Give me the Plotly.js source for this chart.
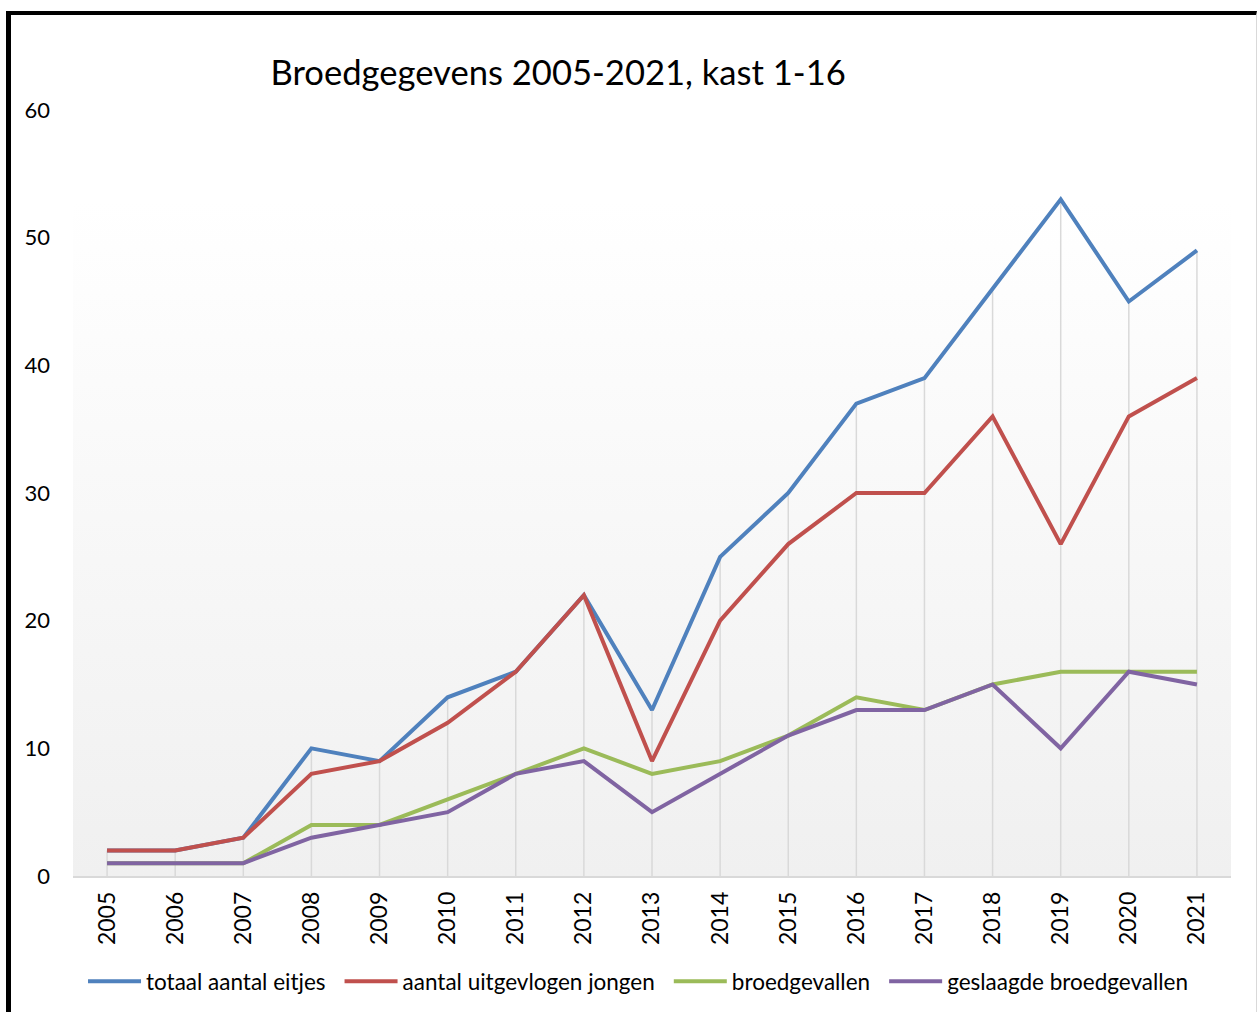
<!DOCTYPE html>
<html>
<head>
<meta charset="utf-8">
<script src="https://cdn.plot.ly/plotly-3.0.1.min.js"></script>
<style>
  html, body { margin: 0; padding: 0; background: #ffffff; }
  #wrap { position: relative; width: 1257px; height: 1012px; overflow: hidden; }
  #chart { position: absolute; left: 0; top: 0; width: 1257px; height: 1012px; }
  #frame { position: absolute; left: 6px; top: 11px; width: 1245px; height: 1010px;
           border-left: 5px solid #000; border-top: 4px solid #000; border-right: 1px solid #d9d9d9;
           pointer-events: none; }
</style>
</head>
<body>
<div id="wrap">
  <div id="chart"></div>
  <div id="frame"></div>
</div>
<script>
const years = ['2005','2006','2007','2008','2009','2010','2011','2012','2013','2014','2015','2016','2017','2018','2019','2020','2021'];
const totaalAantalEitjes      = [2, 2, 3, 10, 9, 14, 16, 22, 13, 25, 30, 37, 39, 46, 53, 45, 49];
const aantalUitgevlogenJongen = [2, 2, 3, 8, 9, 12, 16, 22, 9, 20, 26, 30, 30, 36, 26, 36, 39];
const broedgevallen           = [1, 1, 1, 4, 4, 6, 8, 10, 8, 9, 11, 14, 13, 15, 16, 16, 16];
const geslaagdeBroedgevallen  = [1, 1, 1, 3, 4, 5, 8, 9, 5, 8, 11, 13, 13, 15, 10, 16, 15];
const seriesNames = ['totaal aantal eitjes', 'aantal uitgevlogen jongen', 'broedgevallen', 'geslaagde broedgevallen'];
const yTicks = [0, 10, 20, 30, 40, 50, 60];

const FONT = 'Lato, "Open Sans", sans-serif';
const colors = ['#4F81BD', '#C0504D', '#9BBB59', '#8064A2'];
const allSeries = [totaalAantalEitjes, aantalUitgevlogenJongen, broedgevallen, geslaagdeBroedgevallen];

// drop lines: from the highest series value down to the axis at each year
const dropX = [], dropY = [];
years.forEach((yr, i) => {
  const top = Math.max(...allSeries.map(s => s[i]));
  dropX.push(yr, yr, null);
  dropY.push(0, top, null);
});

const traces = [{
  x: dropX, y: dropY, type: 'scatter', mode: 'lines',
  line: { color: '#d9d9d9', width: 1.5 }, showlegend: false, hoverinfo: 'skip'
}];
allSeries.forEach((s, k) => {
  traces.push({
    x: years, y: s, name: seriesNames[k], type: 'scatter', mode: 'lines',
    line: { color: colors[k], width: 4 }
  });
});

const gradSvg = "<svg xmlns='http://www.w3.org/2000/svg' width='100' height='100' preserveAspectRatio='none'>" +
  "<defs><linearGradient id='g' x1='0' y1='0' x2='0' y2='1'>" +
  "<stop offset='0' stop-color='#ffffff'/><stop offset='0.12' stop-color='#ffffff'/><stop offset='1' stop-color='#f0f0f0'/>" +
  "</linearGradient></defs><rect width='100' height='100' fill='url(#g)'/></svg>";

const layout = {
  width: 1257, height: 1012,
  paper_bgcolor: '#ffffff', plot_bgcolor: 'rgba(0,0,0,0)',
  margin: { l: 73, r: 26, t: 110, b: 136, autoexpand: false },
  font: { family: FONT, color: '#000000', size: 22 },
  title: { text: 'Broedgegevens 2005-2021, kast 1-16', font: { family: FONT, size: 34.6, color: '#000' },
           x: 0.444, xanchor: 'center', y: 0.928, yanchor: 'middle' },
  xaxis: {
    type: 'category', categoryorder: 'array', categoryarray: years,
    range: [-0.5, 16.5], showgrid: false, zeroline: false,
    showline: true, linecolor: '#d9d9d9', linewidth: 1.5,
    tickangle: -90, ticks: '', tickfont: { family: FONT, size: 23, color: '#000' },
    ticklabelstandoff: 5, automargin: false
  },
  yaxis: {
    range: [0, 60], tickvals: yTicks, showgrid: false, zeroline: false, showline: false,
    ticks: '', tickfont: { family: FONT, size: 22, color: '#000' }, ticklabelstandoff: 22, automargin: false
  },
  legend: {
    orientation: 'h', x: 0.4767, xanchor: 'center', y: -0.138, yanchor: 'middle',
    font: { family: FONT, size: 22.5, color: '#000' }, itemwidth: 53, traceorder: 'normal'
  },
  images: [{
    source: 'data:image/svg+xml;charset=utf-8,' + encodeURIComponent(gradSvg),
    xref: 'paper', yref: 'paper', x: 0, y: 1, sizex: 1, sizey: 1,
    sizing: 'stretch', layer: 'below', xanchor: 'left', yanchor: 'top'
  }],
  showlegend: true
};

Plotly.newPlot('chart', traces, layout, { displayModeBar: false, staticPlot: true }).then(() => {
  const EXTRA = 9;
  // lengthen legend line samples to match the reference style
  document.querySelectorAll('#chart .legendlines path').forEach(p => p.setAttribute('d', 'M5,0h53'));
  // widen spacing between legend entries slightly
  const items = document.querySelectorAll('#chart .legend .traces');
  items.forEach((g, i) => {
    const t = g.getAttribute('transform') || '';
    const m = t.match(/translate\(\s*([-\d.]+)[ ,]+([-\d.]+)\s*\)/);
    if (m) g.setAttribute('transform', 'translate(' + (parseFloat(m[1]) + i * EXTRA) + ',' + m[2] + ')');
  });
  const add = EXTRA * Math.max(0, items.length - 1) + 10;
  // enlarge the legend clip area and background so nothing is cut off
  const scroll = document.querySelector('#chart .legend .scrollbox');
  if (scroll) {
    const cp = scroll.getAttribute('clip-path') || '';
    const idm = cp.match(/#([^)"']+)/);
    if (idm) {
      const rect = document.querySelector('#' + CSS.escape(idm[1]) + ' rect');
      if (rect) rect.setAttribute('width', parseFloat(rect.getAttribute('width')) + add);
    }
  }
  document.querySelectorAll('#chart .legend rect.bg').forEach(r => {
    r.setAttribute('width', parseFloat(r.getAttribute('width')) + add);
  });
});
</script>
</body>
</html>
